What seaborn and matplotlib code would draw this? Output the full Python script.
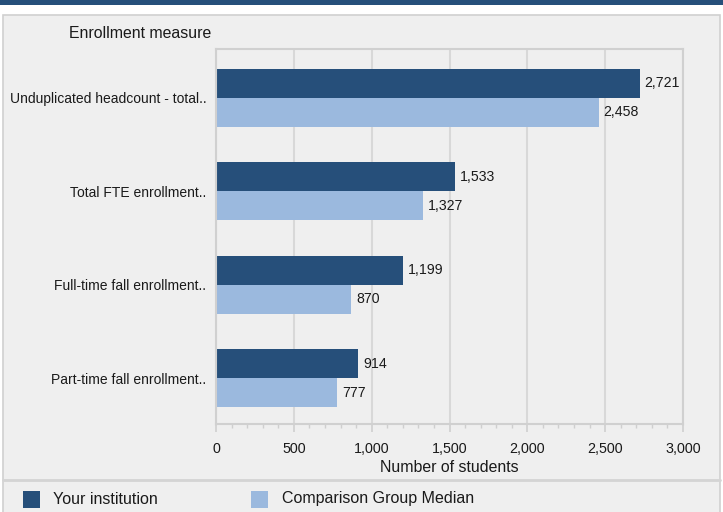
import seaborn as sns
import pandas as pd
import matplotlib.pyplot as plt
from matplotlib.patches import Rectangle
from matplotlib.ticker import MultipleLocator, FuncFormatter

measures = [
    "Unduplicated headcount - total..",
    "Total FTE enrollment..",
    "Full-time fall enrollment..",
    "Part-time fall enrollment..",
]
your_institution = [2721, 1533, 1199, 914]
comparison_median = [2458, 1327, 870, 777]
series = ["Your institution", "Comparison Group Median"]
colors = ["#264f7a", "#9bb9de"]

df = pd.DataFrame({
    "measure": measures * 2,
    "value": your_institution + comparison_median,
    "group": [series[0]] * 4 + [series[1]] * 4,
})

sns.set_style("white")
plt.rcParams["font.family"] = ["Liberation Sans", "DejaVu Sans"]
bg = "#efefef"
grid_c = "#d8d8d8"
txt = "#1a1a1a"

fig = plt.figure(figsize=(7.23, 5.12), dpi=100, facecolor="white")
W, H = 723, 512

# top band and outer panel
fig.patches.append(Rectangle((0, 1 - 5 / H), 1, 5 / H, transform=fig.transFigure,
                             facecolor="#264f7a", edgecolor="none", zorder=0))
fig.patches.append(Rectangle((3 / W, -0.01), 717 / W, 497 / H + 0.01,
                             transform=fig.transFigure, facecolor=bg,
                             edgecolor="#d0d0d0", linewidth=1.2, zorder=0))
fig.add_artist(plt.Line2D([3 / W, 720 / W], [1 - 480 / H] * 2, transform=fig.transFigure,
                          color="#d4d4d4", linewidth=2))

ax = fig.add_axes([216 / W, 1 - 424 / H, (683 - 216) / W, (424 - 49) / H])
ax.set_zorder(3)
ax.set_facecolor(bg)
sns.barplot(data=df, x="value", y="measure", hue="group", orient="h",
            palette=colors, width=0.62, ax=ax, legend=False, saturation=1,
            linewidth=0)

for c in ax.containers:
    ax.bar_label(c, labels=[f"{v:,.0f}" for v in c.datavalues], padding=3.5,
                 fontsize=10.2, color=txt)

ax.set_xlim(0, 3000)
ax.set_ylim(3.49, -0.52)
ax.xaxis.set_major_locator(MultipleLocator(500))
ax.xaxis.set_minor_locator(MultipleLocator(100))
ax.xaxis.set_major_formatter(FuncFormatter(lambda v, p: f"{v:,.0f}"))
ax.grid(axis="x", color=grid_c, linewidth=1.5)
ax.set_axisbelow(True)
for s in ax.spines.values():
    s.set_color("#d0d0d0")
    s.set_linewidth(1.5)
ax.tick_params(axis="x", which="major", length=6, width=1.2, color="#cfcfcf",
               labelsize=10.3, labelcolor=txt, pad=7, bottom=True)
ax.tick_params(axis="x", which="minor", length=3, width=1, color="#cfcfcf", bottom=True)
ax.tick_params(axis="y", length=0, labelsize=10.0, labelcolor=txt, pad=7)
ax.set_xlabel("Number of students", fontsize=11.4, color=txt, labelpad=3)
ax.set_ylabel("")

fig.text(69 / W, 1 - 33 / H, "Enrollment measure", fontsize=11.4, color=txt,
         va="center", ha="left")

# legend row
for (x0, tx), lab, col in zip([(23, 53), (251, 282)], series, colors):
    fig.patches.append(Rectangle((x0 / W, 1 - 508 / H), 17 / W, 17 / H,
                                 transform=fig.transFigure, facecolor=col,
                                 edgecolor="none", zorder=1))
    fig.text(tx / W, 1 - 499 / H, lab, fontsize=11.5, color=txt, va="center", ha="left")

fig.savefig("out.png", dpi=100, facecolor="white")
